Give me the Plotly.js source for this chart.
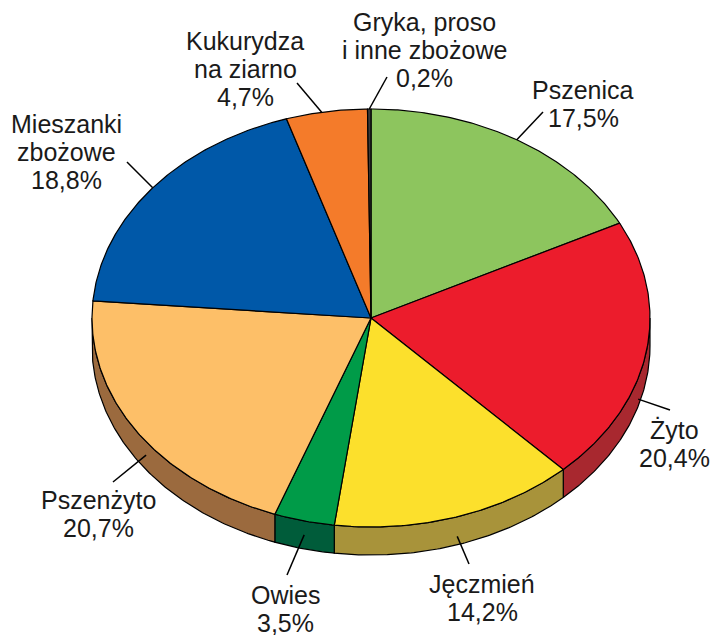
<!DOCTYPE html>
<html>
<head>
<meta charset="utf-8">
<script src="https://cdn.plot.ly/plotly-3.0.1.min.js"></script>
<style>html,body{margin:0;padding:0;background:#fff;}#chart{width:712px;height:635px;}</style>
</head>
<body>
<div id="chart"></div>
<script>
// ---- data ----
const categories = ["Pszenica", "Żyto", "Jęczmień", "Owies", "Pszenżyto", "Mieszanki zbożowe", "Kukurydza na ziarno", "Gryka, proso i inne zbożowe"];
const shares = [17.5, 20.4, 14.2, 3.5, 20.7, 18.8, 4.7, 0.2];
const nameLines = [["Pszenica"], ["Żyto"], ["Jęczmień"], ["Owies"], ["Pszenżyto"], ["Mieszanki", "zbożowe"], ["Kukurydza", "na ziarno"], ["Gryka, proso", "i inne zbożowe"]];

// ---- styles ----
const topColors = ["#8DC55E", "#EC1C2C", "#FCE02C", "#009B48", "#FDBF68", "#0058A8", "#F47B2A", "#3A3A3A"];
const sideColors = ["#5E8A3C", "#A8282F", "#A8933A", "#005C3A", "#9B6A3E", "#003C74", "#A9531C", "#222222"];

// ---- geometry (pixel-like data units) ----
const cx = 371, cy = 318, ra = 279, rb = 209, depth = 28;
// label layout: centre x of text, mid y of first line, leader end, anchor nudge (deg), depth fraction
const labelLayout = [
  {x: 583, y: 90,  ex: 543, ey: 112, nudge: 0,    df: 0},
  {x: 674, y: 430, ex: 670, ey: 410, nudge: 7,    df: 0.75},
  {x: 482, y: 584, ex: 469, ey: 564, nudge: 0,    df: 0.7},
  {x: 285, y: 595, ex: 287, ey: 575, nudge: 0,    df: 0.5},
  {x: 98,  y: 500, ex: 113, ey: 482, nudge: -3.7, df: 0.48},
  {x: 66,  y: 124, ex: 127, ey: 162, nudge: 0,    df: 0},
  {x: 245, y: 41,  ex: 297, ey: 83,  nudge: -1,   df: 0},
  {x: 424, y: 22,  ex: 387, ey: 77,  nudge: 0,    df: 0}
];
const lineGap = 28;

function pt(theta, dy) {
  const r = theta * Math.PI / 180;
  return [cx + ra * Math.sin(r), cy - rb * Math.cos(r) + dy];
}
function arc(t0, t1, dy) {
  const out = [];
  const n = Math.max(2, Math.ceil(Math.abs(t1 - t0) / 0.5));
  for (let k = 0; k <= n; k++) out.push(pt(t0 + (t1 - t0) * k / n, dy));
  return out;
}

const total = shares.reduce((s, v) => s + v, 0);
const bounds = [];
let cum = 0;
shares.forEach(v => { bounds.push([cum / total * 360, (cum + v) / total * 360]); cum += v; });

const sideTraces = [], topTraces = [];
bounds.forEach(([t0, t1], i) => {
  const s0 = Math.max(t0, 90), s1 = Math.min(t1, 270);
  if (s0 < s1) {
    const pts = arc(s0, s1, 0).concat(arc(s1, s0, depth));
    pts.push(pts[0]);
    sideTraces.push({
      type: 'scatter', mode: 'lines', fill: 'toself', fillcolor: sideColors[i],
      x: pts.map(p => p[0]), y: pts.map(p => p[1]),
      line: {color: '#000', width: 1.2}, hoverinfo: 'skip', showlegend: false
    });
  }
  const pts = [[cx, cy]].concat(arc(t0, t1, 0));
  pts.push([cx, cy]);
  topTraces.push({
    type: 'scatter', mode: 'lines', fill: 'toself', fillcolor: topColors[i],
    x: pts.map(p => p[0]), y: pts.map(p => p[1]),
    line: {color: '#000', width: 1.2}, hoverinfo: 'text', text: categories[i], showlegend: false
  });
});

// leader lines
const lx = [], ly = [];
bounds.forEach(([t0, t1], i) => {
  const L = labelLayout[i];
  const th = (t0 + t1) / 2 + L.nudge;
  const p = pt(th, depth * L.df);
  lx.push(p[0], L.ex, null);
  ly.push(p[1], L.ey, null);
});
const leaderTrace = {type: 'scatter', mode: 'lines', x: lx, y: ly, line: {color: '#000', width: 1.5}, hoverinfo: 'skip', showlegend: false};

// labels
const annotations = [];
shares.forEach((v, i) => {
  const L = labelLayout[i];
  const lines = nameLines[i].concat([v.toFixed(1).replace('.', ',') + '%']);
  lines.forEach((t, k) => {
    annotations.push({
      x: L.x, y: L.y + k * lineGap, xref: 'x', yref: 'y', text: t, showarrow: false,
      xanchor: 'center', yanchor: 'middle',
      font: {family: 'Liberation Sans, Arial, sans-serif', size: 25, color: '#1a1a1a'}
    });
  });
});

const layout = {
  width: 712, height: 635,
  margin: {l: 0, r: 0, t: 0, b: 0},
  paper_bgcolor: '#fff', plot_bgcolor: '#fff',
  xaxis: {range: [0, 712], visible: false, fixedrange: true},
  yaxis: {range: [635, 0], visible: false, fixedrange: true},
  annotations: annotations,
  showlegend: false
};

Plotly.newPlot('chart', sideTraces.concat(topTraces, [leaderTrace]), layout, {displayModeBar: false, staticPlot: true});
</script>
</body>
</html>
